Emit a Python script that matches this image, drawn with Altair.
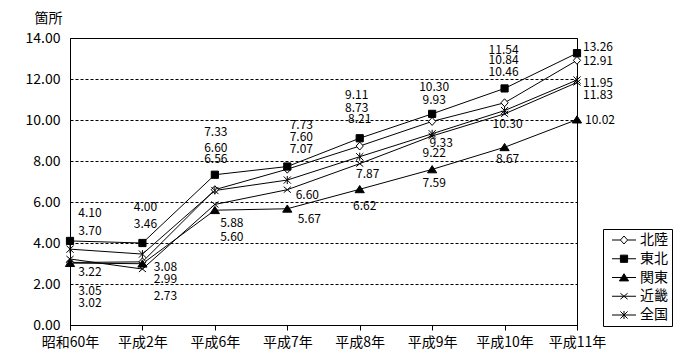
import json
import altair as alt
import pandas as pd

# ---- data ----
categories = ["昭和60年", "平成2年", "平成6年", "平成7年", "平成8年", "平成9年", "平成10年", "平成11年"]
series_names = ["北陸", "東北", "関東", "近畿", "全国"]
hokuriku = [3.05, 3.08, 6.60, 7.60, 8.73, 9.93, 10.84, 12.91]
tohoku = [4.10, 4.00, 7.33, 7.73, 9.11, 10.30, 11.54, 13.26]
kanto = [3.02, 2.99, 5.60, 5.67, 6.62, 7.59, 8.67, 10.02]
kinki = [3.22, 2.73, 5.88, 6.60, 7.87, 9.22, 10.30, 11.83]
zenkoku = [3.70, 3.46, 6.56, 7.07, 8.21, 9.33, 10.46, 11.95]
y_ticks = [0, 2, 4, 6, 8, 10, 12, 14]

# ---- layout: label offsets in pixels (dx, dy) from each point ----
label_offsets = {
    "北陸": [(20, 28.5), (23, 5), (1, -42), (14, -32), (-3, -38), (2, -21), (-1, -43), (21, 1)],
    "東北": [(20, -28), (3, -36), (1, -43), (14, -41.5), (-3, -43), (2, -27), (-1, -38), (21, -6)],
    "関東": [(20, 40), (23, 15), (17, 27), (22, 10), (5, 17), (2, 14), (3, 12), (23, 0)],
    "近畿": [(20, 13), (23, 27), (17, 18.5), (20, 5), (8, 10), (2, 17), (3, 10), (21, 13)],
    "全国": [(20, -18), (3, -30), (1, -31.5), (14, -31), (0, -38), (9, 9), (-1, -39), (21, 3)],
}

W, H = 507, 287
px_per_x = W / (len(categories) - 1)
px_per_y = H / 14.0

series_values = [hokuriku, tohoku, kanto, kinki, zenkoku]
rows = []
for name, vals in zip(series_names, series_values):
    for i, (cat, v) in enumerate(zip(categories, vals)):
        dx, dy = label_offsets[name][i]
        rows.append({
            "series": name, "idx": i, "cat": cat, "value": v,
            "label": f"{v:.2f}",
            "lx": i + dx / px_per_x, "ly": v - dy / px_per_y,
        })
df = pd.DataFrame(rows)

FONT = "Noto Sans CJK JP"

marker_paths = [
    "M-0.9,0L0,-1L0.9,0L0,1Z",                     # diamond (open)
    "M-0.9,-0.9H0.9V0.9H-0.9Z",                    # square
    "M0,-0.95L1.15,0.85L-1.15,0.85Z",              # triangle
    "M-0.9,-0.75L0.9,0.75M-0.9,0.75L0.9,-0.75",    # x
    "M-0.9,-0.9L0.9,0.9M-0.9,0.9L0.9,-0.9M0,-1V1", # asterisk
]
legend_paths = [
    "M-3,0H-0.9M0.9,0H3M-0.9,0L0,-1L0.9,0L0,1Z",
    "M-3,0H3M-0.9,-0.9H0.9V0.9H-0.9Z",
    "M-3,0H3M0,-0.95L1.15,0.85L-1.15,0.85Z",
    "M-3,0H3M-0.9,-0.75L0.9,0.75M-0.9,0.75L0.9,-0.75",
    "M-3,0H3M-0.9,-0.9L0.9,0.9M-0.9,0.9L0.9,-0.9M0,-1V1",
]
fills = ["white", "black", "black", "black", "black"]

label_expr = json.dumps(categories, ensure_ascii=False) + "[datum.value]"

x_scale = alt.Scale(domain=[0, len(categories) - 1], nice=False, zero=False)
x_axis = alt.Axis(values=list(range(len(categories))), labelExpr=label_expr, grid=False,
                  tickSize=5, ticks=True, labelPadding=5, labelFontSize=14, title=None,
                  labelFlush=False)
y_scale = alt.Scale(domain=[0, 14], nice=False, zero=True)
y_axis = alt.Axis(values=y_ticks, format=".2f", grid=True, gridDash=[3, 2], gridColor="black",
                  gridOpacity=1, ticks=False, labelPadding=10, labelFontSize=14,
                  title="箇所", titleAngle=0, titleX=-22, titleY=-20, titleAlign="center",
                  titleBaseline="middle", titleFontSize=14, titleFontWeight="normal")

base = alt.Chart(df)

lines = base.mark_line(color="black", strokeWidth=1).encode(
    x=alt.X("idx:Q", scale=x_scale, axis=x_axis),
    y=alt.Y("value:Q", scale=y_scale, axis=y_axis),
    detail="series:N", order="idx:Q",
)

points = base.mark_point(filled=True, stroke="black", strokeWidth=1, size=64, opacity=1).encode(
    x=alt.X("idx:Q", scale=x_scale, axis=x_axis),
    y=alt.Y("value:Q", scale=y_scale, axis=y_axis),
    shape=alt.Shape("series:N", scale=alt.Scale(domain=series_names, range=marker_paths), legend=None),
    fill=alt.Fill("series:N", scale=alt.Scale(domain=series_names, range=fills), legend=None),
)

legend_props = dict(
    title=None, orient="none", legendX=533, legendY=191,
    strokeColor="black", fillColor="white", padding=4, cornerRadius=0,
    rowPadding=4.75, symbolSize=64, symbolStrokeWidth=1,
    symbolOpacity=1, symbolOffset=10, labelOffset=9, labelFontSize=14,
    labelFont=FONT, labelColor="black",
)

legend_layer = base.transform_filter("datum.idx == 0").mark_point(
    filled=False, stroke="black", strokeWidth=1, size=64, opacity=0
).encode(
    x=alt.X("idx:Q", scale=x_scale, axis=x_axis),
    y=alt.Y("value:Q", scale=y_scale, axis=y_axis),
    shape=alt.Shape("series:N", scale=alt.Scale(domain=series_names, range=legend_paths),
                    legend=alt.Legend(**legend_props)),
    fill=alt.Fill("series:N", scale=alt.Scale(domain=series_names, range=fills),
                  legend=alt.Legend(**legend_props)),
)

labels = base.mark_text(fontSize=12, font=FONT, color="black", align="center",
                        baseline="middle").encode(
    x=alt.X("lx:Q", scale=x_scale, axis=x_axis),
    y=alt.Y("ly:Q", scale=y_scale, axis=y_axis),
    text="label:N",
)

chart = alt.layer(lines, points, legend_layer, labels).resolve_scale(
    shape="independent", fill="independent"
).properties(
    width=W, height=H,
    padding={"left": 62, "top": 30, "right": 115, "bottom": 27},
    autosize=alt.AutoSizeParams(type="none"),
    background="white",
).configure_view(
    stroke="black", strokeWidth=1
).configure_axis(
    domainColor="black", tickColor="black", labelColor="black", titleColor="black",
    labelFont=FONT, titleFont=FONT, domainWidth=1,
)

chart.save("out.html", embed_options={"renderer": "svg", "actions": False})
